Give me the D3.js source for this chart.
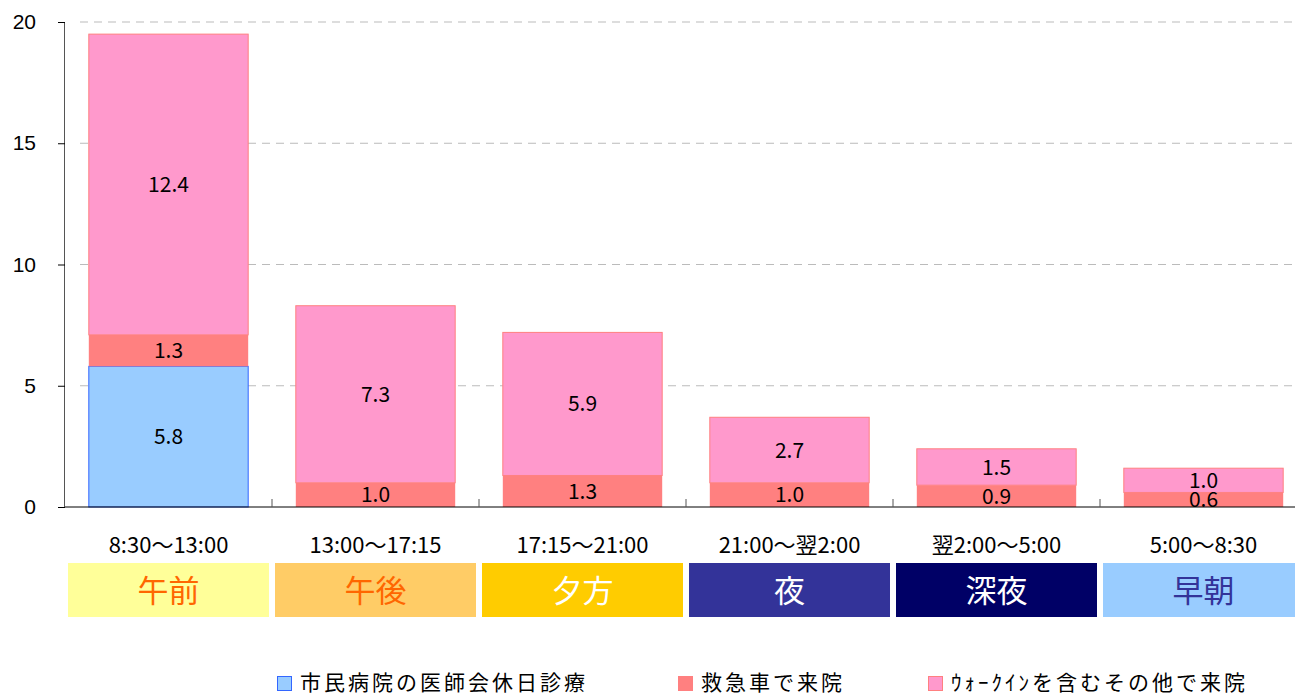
<!DOCTYPE html>
<html>
<head>
<meta charset="utf-8">
<script src="https://cdn.jsdelivr.net/npm/d3@7"></script>
<style>
  body { margin: 0; background: #fff; }
  svg { display: block; font-family: "Noto Sans CJK JP", "Noto Sans", sans-serif; }
</style>
</head>
<body>
<svg></svg>
<script>
const timeLabels = ["8:30～13:00", "13:00～17:15", "17:15～21:00", "21:00～翌2:00", "翌2:00～5:00", "5:00～8:30"];
const periodNames = ["午前", "午後", "夕方", "夜", "深夜", "早朝"];
const periodFill = ["#FFFF99", "#FFCC66", "#FFCC00", "#333399", "#000066", "#99CCFF"];
const periodText = ["#FF6600", "#FF6600", "#FFFFFF", "#FFFFFF", "#FFFFFF", "#333399"];

const seriesNames = ["市民病院の医師会休日診療", "救急車で来院", "ｳｫｰｸｲﾝを含むその他で来院"];
const holidayClinic = [5.8, 0, 0, 0, 0, 0];
const ambulance = [1.3, 1.0, 1.3, 1.0, 0.9, 0.6];
const walkIn = [12.4, 7.3, 5.9, 2.7, 1.5, 1.0];
const yTicks = [0, 5, 10, 15, 20];

const seriesFill = ["#99CCFF", "#FF8080", "#FF99CC"];
const seriesStroke = ["#3366FF", "#FF8080", "#FF8080"];

const width = 1295, height = 695;
const margin = { top: 22, left: 65, bottom: 188 };
const svg = d3.select("svg").attr("width", width).attr("height", height);

const rows = timeLabels.map((t, i) => ({ key: t, s0: holidayClinic[i], s1: ambulance[i], s2: walkIn[i] }));
const stack = d3.stack().keys(["s0", "s1", "s2"])(rows);

const x = d3.scaleBand()
    .domain(timeLabels)
    .range([margin.left, margin.left + 6 * 207])
    .paddingInner(0.23)
    .paddingOuter(0.115);

const band = d3.scaleBand()
    .domain(timeLabels)
    .range([margin.left, margin.left + 6 * 207]);

const y = d3.scaleLinear()
    .domain([0, 20])
    .range([height - margin.bottom, margin.top]);

// grid lines
svg.append("g")
    .selectAll("line")
    .data(yTicks.filter(d => d > 0))
    .join("line")
    .attr("x1", margin.left + 15)
    .attr("x2", width)
    .attr("y1", d => y(d))
    .attr("y2", d => y(d))
    .attr("stroke", "#bbb")
    .attr("stroke-dasharray", "8,6");

// bars
stack.forEach((layer, li) => {
    svg.append("g")
        .selectAll("rect")
        .data(layer.filter(d => d[1] - d[0] > 0))
        .join("rect")
        .attr("x", d => x(d.data.key))
        .attr("width", x.bandwidth())
        .attr("y", d => y(d[1]))
        .attr("height", d => y(d[0]) - y(d[1]))
        .attr("fill", seriesFill[li])
        .attr("stroke", seriesStroke[li])
        .attr("stroke-width", li === 1 ? 0 : 1);
});

// value labels
stack.forEach(layer => {
    svg.append("g")
        .selectAll("text")
        .data(layer.filter(d => d[1] - d[0] > 0))
        .join("text")
        .attr("x", d => x(d.data.key) + x.bandwidth() / 2)
        .attr("y", d => (y(d[0]) + y(d[1])) / 2)
        .attr("dy", "0.36em")
        .attr("text-anchor", "middle")
        .style("font-size", "21px")
        .style("fill", "#000")
        .text(d => (d[1] - d[0]).toFixed(1));
});

// y axis
const yAxis = svg.append("g")
    .attr("transform", `translate(${margin.left},0)`)
    .call(d3.axisLeft(y).tickValues(yTicks).tickSize(7).tickPadding(22));
yAxis.select(".domain").attr("stroke", "#555").attr("d", `M-0.5,${y(20)}V${y(0)}`);
yAxis.selectAll(".tick line").attr("stroke", "#000");
yAxis.selectAll("text").style("font-size", "21px").style("font-family", "inherit").attr("fill", "#000");

// x axis
const xAxisG = svg.append("g")
    .attr("transform", `translate(0,${y(0)})`);
xAxisG.append("line")
    .attr("x1", margin.left).attr("x2", width)
    .attr("stroke", "#000");
xAxisG.selectAll(".tk")
    .data(timeLabels.slice(1))
    .join("line")
    .attr("x1", d => band(d)).attr("x2", d => band(d))
    .attr("y1", 0).attr("y2", -8)
    .attr("stroke", "#555");

// time range labels
svg.append("g")
    .selectAll("text")
    .data(timeLabels)
    .join("text")
    .attr("x", d => band(d) + band.bandwidth() / 2)
    .attr("y", 553)
    .attr("text-anchor", "middle")
    .style("font-size", "22px")
    .style("fill", "#000")
    .text(d => d);

// period boxes
const boxes = svg.append("g")
    .selectAll("g")
    .data(timeLabels)
    .join("g");
boxes.append("rect")
    .attr("x", d => band(d) + 3)
    .attr("width", band.bandwidth() - 6)
    .attr("y", 563)
    .attr("height", 54)
    .attr("fill", (d, i) => periodFill[i]);
boxes.append("text")
    .attr("x", d => band(d) + band.bandwidth() / 2)
    .attr("y", 591)
    .attr("dy", "0.36em")
    .attr("text-anchor", "middle")
    .style("font-size", "31px")
    .style("fill", (d, i) => periodText[i])
    .text((d, i) => periodNames[i]);

// legend
const legendX = [277, 678, 928];
const legend = svg.append("g")
    .selectAll("g")
    .data(seriesNames)
    .join("g")
    .attr("transform", (d, i) => `translate(${legendX[i]}, 676)`);
legend.append("rect")
    .attr("x", 0.5).attr("y", 0.5)
    .attr("width", 14).attr("height", 14)
    .attr("fill", (d, i) => seriesFill[i])
    .attr("stroke", (d, i) => seriesStroke[i]);
legend.append("text")
    .attr("x", 23)
    .attr("y", 14)
    .style("font-size", "21px")
    .style("letter-spacing", "3px")
    .style("fill", "#000")
    .text(d => d);
</script>
</body>
</html>
